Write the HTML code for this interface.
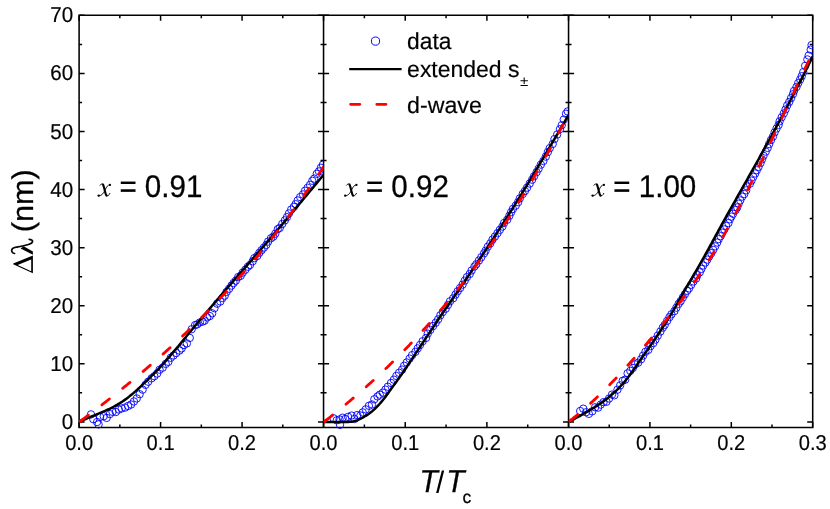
<!DOCTYPE html>
<html lang="en">
<head>
<meta charset="utf-8">
<title>Penetration depth vs T/Tc</title>
<style>html,body{margin:0;padding:0;background:#fff;}body{width:830px;height:509px;overflow:hidden;font-family:"Liberation Sans",sans-serif;}svg{display:block;}</style>
</head>
<body>
<svg width="830" height="509" viewBox="0 0 830 509">
<rect width="830" height="509" fill="#fff"/>
<g stroke="#000" stroke-width="1.55" fill="none" stroke-linecap="butt">
<path d="M79.1 15.3 H812.7 V427.4 H79.1 Z"/>
<path d="M323.55 15.3 V427.4"/>
<path d="M568.55 15.3 V427.4"/>
</g>
<path d="M79.1 427.4 v-5.5 M79.1 15.3 v5.5 M119.84 427.4 v-3 M119.84 15.3 v3 M160.58 427.4 v-5.5 M160.58 15.3 v5.5 M201.32 427.4 v-3 M201.32 15.3 v3 M242.06 427.4 v-5.5 M242.06 15.3 v5.5 M282.8 427.4 v-3 M282.8 15.3 v3 M323.55 427.4 v-5.5 M323.55 15.3 v5.5 M364.38 427.4 v-3 M364.38 15.3 v3 M405.22 427.4 v-5.5 M405.22 15.3 v5.5 M446.06 427.4 v-3 M446.06 15.3 v3 M486.89 427.4 v-5.5 M486.89 15.3 v5.5 M527.73 427.4 v-3 M527.73 15.3 v3 M568.55 427.4 v-5.5 M568.55 15.3 v5.5 M609.24 427.4 v-3 M609.24 15.3 v3 M649.93 427.4 v-5.5 M649.93 15.3 v5.5 M690.62 427.4 v-3 M690.62 15.3 v3 M731.31 427.4 v-5.5 M731.31 15.3 v5.5 M772 427.4 v-3 M772 15.3 v3 M812.69 427.4 v-5.5 M812.69 15.3 v5.5 M79.1 421.9 h5.5 M812.7 421.9 h-5.5 M318.05 421.9 h11 M563.05 421.9 h11 M79.1 392.86 h3 M812.7 392.86 h-3 M320.55 392.86 h6 M565.55 392.86 h6 M79.1 363.82 h5.5 M812.7 363.82 h-5.5 M318.05 363.82 h11 M563.05 363.82 h11 M79.1 334.78 h3 M812.7 334.78 h-3 M320.55 334.78 h6 M565.55 334.78 h6 M79.1 305.74 h5.5 M812.7 305.74 h-5.5 M318.05 305.74 h11 M563.05 305.74 h11 M79.1 276.7 h3 M812.7 276.7 h-3 M320.55 276.7 h6 M565.55 276.7 h6 M79.1 247.66 h5.5 M812.7 247.66 h-5.5 M318.05 247.66 h11 M563.05 247.66 h11 M79.1 218.62 h3 M812.7 218.62 h-3 M320.55 218.62 h6 M565.55 218.62 h6 M79.1 189.58 h5.5 M812.7 189.58 h-5.5 M318.05 189.58 h11 M563.05 189.58 h11 M79.1 160.54 h3 M812.7 160.54 h-3 M320.55 160.54 h6 M565.55 160.54 h6 M79.1 131.5 h5.5 M812.7 131.5 h-5.5 M318.05 131.5 h11 M563.05 131.5 h11 M79.1 102.46 h3 M812.7 102.46 h-3 M320.55 102.46 h6 M565.55 102.46 h6 M79.1 73.42 h5.5 M812.7 73.42 h-5.5 M318.05 73.42 h11 M563.05 73.42 h11 M79.1 44.38 h3 M812.7 44.38 h-3 M320.55 44.38 h6 M565.55 44.38 h6 M79.1 15.34 h5.5 M812.7 15.34 h-5.5 M318.05 15.34 h11 M563.05 15.34 h11" stroke="#000" stroke-width="1.5" fill="none"/>
<defs>
<clipPath id="cp0"><rect x="79.1" y="15.3" width="244.45" height="413.7"/></clipPath>
<clipPath id="cp1"><rect x="323.55" y="15.3" width="245" height="413.7"/></clipPath>
<clipPath id="cp2"><rect x="568.55" y="15.3" width="244.15" height="413.7"/></clipPath>
</defs>
<g clip-path="url(#cp0)">
<g fill="none" stroke="#0000ff" stroke-width="0.9">
<circle cx="91" cy="414.4" r="3.7"/><circle cx="98.6" cy="424.4" r="3.7"/><circle cx="93.3" cy="419.19" r="3.7"/><circle cx="97.12" cy="421.98" r="3.7"/><circle cx="100.11" cy="417" r="3.7"/><circle cx="103.73" cy="416.22" r="3.7"/><circle cx="106.67" cy="417.9" r="3.7"/><circle cx="109.87" cy="414.09" r="3.7"/><circle cx="112.51" cy="411.81" r="3.7"/><circle cx="115.79" cy="412" r="3.7"/><circle cx="118.83" cy="409.55" r="3.7"/><circle cx="121.68" cy="408.44" r="3.7"/><circle cx="125.08" cy="407.55" r="3.7"/><circle cx="128.13" cy="405.97" r="3.7"/><circle cx="131.09" cy="404.52" r="3.7"/><circle cx="133.97" cy="401.47" r="3.7"/><circle cx="136.78" cy="398.43" r="3.7"/><circle cx="139.65" cy="394.21" r="3.7"/><circle cx="142.62" cy="389.64" r="3.7"/><circle cx="145.58" cy="384.83" r="3.7"/><circle cx="148.18" cy="381.74" r="3.7"/><circle cx="151.57" cy="378.31" r="3.7"/><circle cx="154.34" cy="376.22" r="3.7"/><circle cx="157.16" cy="373.57" r="3.7"/><circle cx="159.59" cy="369.73" r="3.7"/><circle cx="162.68" cy="367.66" r="3.7"/><circle cx="165.73" cy="363.92" r="3.7"/><circle cx="168.36" cy="361.88" r="3.7"/><circle cx="170.72" cy="357.78" r="3.7"/><circle cx="173.45" cy="355.52" r="3.7"/><circle cx="176.24" cy="353.05" r="3.7"/><circle cx="179.45" cy="350.6" r="3.7"/><circle cx="181.7" cy="348.4" r="3.7"/><circle cx="184.02" cy="344.97" r="3.7"/><circle cx="186.86" cy="343.43" r="3.7"/><circle cx="189.76" cy="337.93" r="3.7"/><circle cx="191.7" cy="329.23" r="3.7"/><circle cx="195.09" cy="325.12" r="3.7"/><circle cx="197.22" cy="324.36" r="3.7"/><circle cx="199.9" cy="322.4" r="3.7"/><circle cx="202.61" cy="321.59" r="3.7"/><circle cx="204.64" cy="320.63" r="3.7"/><circle cx="207.14" cy="317.43" r="3.7"/><circle cx="209.82" cy="316.06" r="3.7"/><circle cx="212.18" cy="313.3" r="3.7"/><circle cx="214.48" cy="308.19" r="3.7"/><circle cx="217.15" cy="303.72" r="3.7"/><circle cx="220.33" cy="301.49" r="3.7"/><circle cx="222.47" cy="298.03" r="3.7"/><circle cx="224.74" cy="295.66" r="3.7"/><circle cx="226.62" cy="291.84" r="3.7"/><circle cx="229.1" cy="288.78" r="3.7"/><circle cx="231.44" cy="285.61" r="3.7"/><circle cx="233.57" cy="283.01" r="3.7"/><circle cx="235.82" cy="280.68" r="3.7"/><circle cx="238.18" cy="277.04" r="3.7"/><circle cx="240.65" cy="275.82" r="3.7"/><circle cx="242.67" cy="272.62" r="3.7"/><circle cx="245.31" cy="269.74" r="3.7"/><circle cx="247.91" cy="266.71" r="3.7"/><circle cx="250.01" cy="264.93" r="3.7"/><circle cx="252.69" cy="261.25" r="3.7"/><circle cx="254.3" cy="258.13" r="3.7"/><circle cx="257.27" cy="255.97" r="3.7"/><circle cx="259.35" cy="252.78" r="3.7"/><circle cx="261.54" cy="250.17" r="3.7"/><circle cx="263.95" cy="247.54" r="3.7"/><circle cx="266.35" cy="244.85" r="3.7"/><circle cx="268.11" cy="241.58" r="3.7"/><circle cx="270.94" cy="238.27" r="3.7"/><circle cx="273.33" cy="236.64" r="3.7"/><circle cx="275.28" cy="233.69" r="3.7"/><circle cx="277.75" cy="229.19" r="3.7"/><circle cx="279.78" cy="227.91" r="3.7"/><circle cx="282.23" cy="223.99" r="3.7"/><circle cx="284.83" cy="220.39" r="3.7"/><circle cx="286.98" cy="217.13" r="3.7"/><circle cx="288.96" cy="213.4" r="3.7"/><circle cx="291.17" cy="209.6" r="3.7"/><circle cx="293.85" cy="206.86" r="3.7"/><circle cx="295.64" cy="204.16" r="3.7"/><circle cx="297.72" cy="200.43" r="3.7"/><circle cx="300.21" cy="197.06" r="3.7"/><circle cx="302.98" cy="194.42" r="3.7"/><circle cx="305.04" cy="190.72" r="3.7"/><circle cx="307.62" cy="187.75" r="3.7"/><circle cx="310.09" cy="184.84" r="3.7"/><circle cx="312.3" cy="180.81" r="3.7"/><circle cx="314.23" cy="178.62" r="3.7"/><circle cx="316.77" cy="173.82" r="3.7"/><circle cx="318.94" cy="171.4" r="3.7"/><circle cx="320.89" cy="167.75" r="3.7"/><circle cx="322.96" cy="164.62" r="3.7"/>
</g>
<path d="M79.1 422.04 L80.1 421.57 L81.1 421.1 L82.1 420.63 L83.1 420.16 L84.1 419.71 L85.1 419.25 L86.1 418.81 L87.1 418.37 L88.1 417.94 L89.1 417.52 L90.1 417.1 L91.1 416.69 L92.1 416.28 L93.1 415.87 L94.1 415.47 L95.1 415.06 L96.1 414.65 L97.1 414.23 L98.1 413.81 L99.1 413.39 L100.1 412.96 L101.1 412.54 L102.1 412.12 L103.1 411.7 L104.1 411.28 L105.1 410.85 L106.1 410.41 L107.1 409.96 L108.1 409.5 L109.1 409.03 L110.1 408.55 L111.1 408.05 L112.1 407.54 L113.1 407.01 L114.1 406.48 L115.1 405.93 L116.1 405.36 L117.1 404.79 L118.1 404.2 L119.1 403.6 L120.1 402.98 L121.1 402.35 L122.1 401.7 L123.1 401.03 L124.1 400.35 L125.1 399.64 L126.1 398.91 L127.1 398.16 L128.1 397.4 L129.1 396.62 L130.1 395.83 L131.1 395.02 L132.1 394.2 L133.1 393.37 L134.1 392.53 L135.1 391.67 L136.1 390.78 L137.1 389.87 L138.1 388.94 L139.1 388 L140.1 387.04 L141.1 386.08 L142.1 385.11 L143.1 384.15 L144.1 383.18 L145.1 382.23 L146.1 381.27 L147.1 380.31 L148.1 379.36 L149.1 378.4 L150.1 377.43 L151.1 376.46 L152.1 375.48 L153.1 374.5 L154.1 373.5 L155.1 372.49 L156.1 371.47 L157.1 370.43 L158.1 369.38 L159.1 368.31 L160.1 367.23 L161.1 366.14 L162.1 365.05 L163.1 363.94 L164.1 362.82 L165.1 361.69 L166.1 360.56 L167.1 359.42 L168.1 358.27 L169.1 357.11 L170.1 355.94 L171.1 354.77 L172.1 353.59 L173.1 352.41 L174.1 351.22 L175.1 350.03 L176.1 348.83 L177.1 347.63 L178.1 346.43 L179.1 345.22 L180.1 344.01 L181.1 342.8 L182.1 341.58 L183.1 340.37 L184.1 339.15 L185.1 337.93 L186.1 336.71 L187.1 335.5 L188.1 334.28 L189.1 333.06 L190.1 331.85 L191.1 330.64 L192.1 329.43 L193.1 328.22 L194.1 327.02 L195.1 325.82 L196.1 324.62 L197.1 323.43 L198.1 322.24 L199.1 321.06 L200.1 319.88 L201.1 318.71 L202.1 317.53 L203.1 316.36 L204.1 315.19 L205.1 314.01 L206.1 312.84 L207.1 311.66 L208.1 310.49 L209.1 309.31 L210.1 308.14 L211.1 306.96 L212.1 305.79 L213.1 304.62 L214.1 303.44 L215.1 302.27 L216.1 301.1 L217.1 299.93 L218.1 298.75 L219.1 297.58 L220.1 296.41 L221.1 295.24 L222.1 294.08 L223.1 292.91 L224.1 291.74 L225.1 290.58 L226.1 289.41 L227.1 288.25 L228.1 287.09 L229.1 285.92 L230.1 284.76 L231.1 283.61 L232.1 282.45 L233.1 281.3 L234.1 280.14 L235.1 278.99 L236.1 277.85 L237.1 276.7 L238.1 275.55 L239.1 274.41 L240.1 273.27 L241.1 272.13 L242.1 270.98 L243.1 269.84 L244.1 268.7 L245.1 267.56 L246.1 266.42 L247.1 265.28 L248.1 264.14 L249.1 263 L250.1 261.86 L251.1 260.71 L252.1 259.57 L253.1 258.42 L254.1 257.27 L255.1 256.12 L256.1 254.97 L257.1 253.82 L258.1 252.66 L259.1 251.51 L260.1 250.35 L261.1 249.18 L262.1 248.02 L263.1 246.85 L264.1 245.68 L265.1 244.51 L266.1 243.34 L267.1 242.17 L268.1 241 L269.1 239.82 L270.1 238.65 L271.1 237.47 L272.1 236.29 L273.1 235.12 L274.1 233.94 L275.1 232.76 L276.1 231.57 L277.1 230.39 L278.1 229.21 L279.1 228.02 L280.1 226.84 L281.1 225.65 L282.1 224.47 L283.1 223.28 L284.1 222.09 L285.1 220.9 L286.1 219.72 L287.1 218.53 L288.1 217.34 L289.1 216.15 L290.1 214.96 L291.1 213.76 L292.1 212.57 L293.1 211.38 L294.1 210.19 L295.1 209 L296.1 207.8 L297.1 206.61 L298.1 205.42 L299.1 204.23 L300.1 203.03 L301.1 201.84 L302.1 200.64 L303.1 199.45 L304.1 198.25 L305.1 197.05 L306.1 195.85 L307.1 194.66 L308.1 193.46 L309.1 192.26 L310.1 191.05 L311.1 189.85 L312.1 188.65 L313.1 187.45 L314.1 186.25 L315.1 185.04 L316.1 183.84 L317.1 182.63 L318.1 181.43 L319.1 180.22 L320.1 179.01 L321.1 177.8 L322.1 176.6 L323.1 175.39 L323.55 174.84" fill="none" stroke="#000" stroke-width="2.5" stroke-linejoin="round"/>
<path d="M79.1 422.13 L80.1 421.39 L81.1 420.64 L82.1 419.89 L83.1 419.14 L84.1 418.39 L85.1 417.64 L86.1 416.89 L87.1 416.13 L88.1 415.38 L89.1 414.62 L90.1 413.86 L91.1 413.1 L92.1 412.34 L93.1 411.58 L94.1 410.81 L95.1 410.05 L96.1 409.28 L97.1 408.52 L98.1 407.75 L99.1 406.98 L100.1 406.21 L101.1 405.43 L102.1 404.66 L103.1 403.88 L104.1 403.1 L105.1 402.32 L106.1 401.54 L107.1 400.76 L108.1 399.98 L109.1 399.19 L110.1 398.41 L111.1 397.62 L112.1 396.83 L113.1 396.04 L114.1 395.24 L115.1 394.45 L116.1 393.65 L117.1 392.85 L118.1 392.05 L119.1 391.25 L120.1 390.45 L121.1 389.64 L122.1 388.83 L123.1 388.02 L124.1 387.21 L125.1 386.4 L126.1 385.58 L127.1 384.77 L128.1 383.95 L129.1 383.13 L130.1 382.31 L131.1 381.48 L132.1 380.66 L133.1 379.83 L134.1 379 L135.1 378.17 L136.1 377.33 L137.1 376.5 L138.1 375.66 L139.1 374.82 L140.1 373.97 L141.1 373.13 L142.1 372.28 L143.1 371.43 L144.1 370.58 L145.1 369.73 L146.1 368.87 L147.1 368.02 L148.1 367.16 L149.1 366.3 L150.1 365.43 L151.1 364.56 L152.1 363.7 L153.1 362.82 L154.1 361.95 L155.1 361.08 L156.1 360.2 L157.1 359.32 L158.1 358.43 L159.1 357.55 L160.1 356.66 L161.1 355.77 L162.1 354.88 L163.1 353.98 L164.1 353.09 L165.1 352.19 L166.1 351.28 L167.1 350.38 L168.1 349.47 L169.1 348.56 L170.1 347.65 L171.1 346.73 L172.1 345.81 L173.1 344.89 L174.1 343.97 L175.1 343.04 L176.1 342.12 L177.1 341.18 L178.1 340.25 L179.1 339.31 L180.1 338.37 L181.1 337.43 L182.1 336.49 L183.1 335.54 L184.1 334.59 L185.1 333.64 L186.1 332.68 L187.1 331.72 L188.1 330.76 L189.1 329.79 L190.1 328.83 L191.1 327.85 L192.1 326.88 L193.1 325.9 L194.1 324.92 L195.1 323.94 L196.1 322.96 L197.1 321.97 L198.1 320.98 L199.1 319.98 L200.1 318.98 L201.1 317.98 L202.1 316.98 L203.1 315.97 L204.1 314.96 L205.1 313.95 L206.1 312.93 L207.1 311.91 L208.1 310.89 L209.1 309.86 L210.1 308.83 L211.1 307.8 L212.1 306.76 L213.1 305.72 L214.1 304.68 L215.1 303.63 L216.1 302.58 L217.1 301.53 L218.1 300.48 L219.1 299.42 L220.1 298.35 L221.1 297.29 L222.1 296.22 L223.1 295.14 L224.1 294.07 L225.1 292.99 L226.1 291.9 L227.1 290.82 L228.1 289.73 L229.1 288.63 L230.1 287.53 L231.1 286.43 L232.1 285.33 L233.1 284.22 L234.1 283.11 L235.1 281.99 L236.1 280.87 L237.1 279.75 L238.1 278.62 L239.1 277.49 L240.1 276.35 L241.1 275.22 L242.1 274.07 L243.1 272.93 L244.1 271.78 L245.1 270.63 L246.1 269.47 L247.1 268.31 L248.1 267.14 L249.1 265.97 L250.1 264.8 L251.1 263.62 L252.1 262.44 L253.1 261.26 L254.1 260.07 L255.1 258.88 L256.1 257.68 L257.1 256.48 L258.1 255.28 L259.1 254.07 L260.1 252.86 L261.1 251.64 L262.1 250.42 L263.1 249.19 L264.1 247.96 L265.1 246.73 L266.1 245.49 L267.1 244.25 L268.1 243.01 L269.1 241.76 L270.1 240.5 L271.1 239.24 L272.1 237.98 L273.1 236.71 L274.1 235.44 L275.1 234.17 L276.1 232.89 L277.1 231.6 L278.1 230.31 L279.1 229.02 L280.1 227.72 L281.1 226.42 L282.1 225.12 L283.1 223.81 L284.1 222.49 L285.1 221.17 L286.1 219.85 L287.1 218.52 L288.1 217.18 L289.1 215.85 L290.1 214.5 L291.1 213.16 L292.1 211.81 L293.1 210.45 L294.1 209.09 L295.1 207.72 L296.1 206.35 L297.1 204.98 L298.1 203.6 L299.1 202.22 L300.1 200.83 L301.1 199.43 L302.1 198.04 L303.1 196.63 L304.1 195.23 L305.1 193.81 L306.1 192.4 L307.1 190.97 L308.1 189.55 L309.1 188.11 L310.1 186.68 L311.1 185.24 L312.1 183.79 L313.1 182.34 L314.1 180.88 L315.1 179.42 L316.1 177.95 L317.1 176.48 L318.1 175 L319.1 173.52 L320.1 172.04 L321.1 170.54 L322.1 169.05 L323.1 167.55 L323.55 166.87" fill="none" stroke="#ff0000" stroke-width="2.8" stroke-dasharray="9.4 17.1" stroke-dashoffset="-2.2" stroke-linecap="round" stroke-linejoin="round"/>
<path d="M79.1 422.13 L80.1 421.39 L81.1 420.64 L82.1 419.89" fill="none" stroke="#ff0000" stroke-width="2.8"/>
</g>
<g clip-path="url(#cp1)">
<g fill="none" stroke="#0000ff" stroke-width="0.9">
<circle cx="340" cy="424.8" r="3.7"/><circle cx="333.54" cy="418.27" r="3.7"/><circle cx="336.79" cy="420.27" r="3.7"/><circle cx="339.56" cy="419.42" r="3.7"/><circle cx="342.67" cy="417.69" r="3.7"/><circle cx="345.24" cy="418.95" r="3.7"/><circle cx="348.12" cy="416.85" r="3.7"/><circle cx="351.61" cy="415.53" r="3.7"/><circle cx="354.42" cy="418.99" r="3.7"/><circle cx="357.19" cy="415.07" r="3.7"/><circle cx="360.41" cy="415.45" r="3.7"/><circle cx="362.72" cy="412.39" r="3.7"/><circle cx="365.72" cy="409.36" r="3.7"/><circle cx="368.92" cy="405.81" r="3.7"/><circle cx="371.96" cy="404.48" r="3.7"/><circle cx="374.32" cy="399.28" r="3.7"/><circle cx="377.54" cy="396.42" r="3.7"/><circle cx="379.76" cy="394.67" r="3.7"/><circle cx="382.77" cy="392.7" r="3.7"/><circle cx="385.41" cy="389.61" r="3.7"/><circle cx="387.81" cy="386.72" r="3.7"/><circle cx="391.01" cy="382.97" r="3.7"/><circle cx="393.9" cy="379.65" r="3.7"/><circle cx="396.35" cy="375.94" r="3.7"/><circle cx="399.07" cy="372.76" r="3.7"/><circle cx="402.12" cy="369.55" r="3.7"/><circle cx="404.13" cy="365.76" r="3.7"/><circle cx="406.73" cy="362.44" r="3.7"/><circle cx="409.59" cy="358.62" r="3.7"/><circle cx="412.09" cy="355.15" r="3.7"/><circle cx="415.35" cy="351.9" r="3.7"/><circle cx="417.7" cy="348.36" r="3.7"/><circle cx="420" cy="345.03" r="3.7"/><circle cx="422.65" cy="341.21" r="3.7"/><circle cx="426.09" cy="337.92" r="3.7"/><circle cx="427.78" cy="333.58" r="3.7"/><circle cx="430.29" cy="329.89" r="3.7"/><circle cx="433.09" cy="326.02" r="3.7"/><circle cx="435.7" cy="322.75" r="3.7"/><circle cx="438.11" cy="319.38" r="3.7"/><circle cx="440.33" cy="315.39" r="3.7"/><circle cx="442.75" cy="312.03" r="3.7"/><circle cx="445.67" cy="308.71" r="3.7"/><circle cx="447.97" cy="304.93" r="3.7"/><circle cx="450.02" cy="301.31" r="3.7"/><circle cx="453.17" cy="298.3" r="3.7"/><circle cx="455.5" cy="294.61" r="3.7"/><circle cx="457.66" cy="291.28" r="3.7"/><circle cx="460.06" cy="288.07" r="3.7"/><circle cx="462.58" cy="284.61" r="3.7"/><circle cx="464.73" cy="280.68" r="3.7"/><circle cx="466.93" cy="277.16" r="3.7"/><circle cx="469.71" cy="273.98" r="3.7"/><circle cx="471.62" cy="270.47" r="3.7"/><circle cx="474.41" cy="266.59" r="3.7"/><circle cx="476.28" cy="264.22" r="3.7"/><circle cx="478.93" cy="260.5" r="3.7"/><circle cx="481.23" cy="257.34" r="3.7"/><circle cx="484.01" cy="253.36" r="3.7"/><circle cx="485.6" cy="250.67" r="3.7"/><circle cx="487.81" cy="246.67" r="3.7"/><circle cx="490.3" cy="243.4" r="3.7"/><circle cx="492.48" cy="239.62" r="3.7"/><circle cx="494.91" cy="236.61" r="3.7"/><circle cx="497.47" cy="233.21" r="3.7"/><circle cx="499.85" cy="229.8" r="3.7"/><circle cx="502.38" cy="226.54" r="3.7"/><circle cx="504.08" cy="222.94" r="3.7"/><circle cx="507.22" cy="219.72" r="3.7"/><circle cx="509.36" cy="215.79" r="3.7"/><circle cx="511.11" cy="212.15" r="3.7"/><circle cx="512.89" cy="208.96" r="3.7"/><circle cx="515.74" cy="205.63" r="3.7"/><circle cx="518.08" cy="202.24" r="3.7"/><circle cx="519.79" cy="198.48" r="3.7"/><circle cx="522.68" cy="194.04" r="3.7"/><circle cx="524.91" cy="191.01" r="3.7"/><circle cx="527.06" cy="187.65" r="3.7"/><circle cx="529.72" cy="183.56" r="3.7"/><circle cx="532.11" cy="179.71" r="3.7"/><circle cx="534.04" cy="176.26" r="3.7"/><circle cx="536.52" cy="172.25" r="3.7"/><circle cx="538.6" cy="168.75" r="3.7"/><circle cx="540.86" cy="164.62" r="3.7"/><circle cx="543.38" cy="161.01" r="3.7"/><circle cx="545.79" cy="156.63" r="3.7"/><circle cx="547.82" cy="152.07" r="3.7"/><circle cx="549.71" cy="148.21" r="3.7"/><circle cx="552.71" cy="143.96" r="3.7"/><circle cx="554.46" cy="139.05" r="3.7"/><circle cx="557.19" cy="134.49" r="3.7"/><circle cx="559.91" cy="129.17" r="3.7"/><circle cx="561.76" cy="125.19" r="3.7"/><circle cx="563.76" cy="119.56" r="3.7"/><circle cx="566" cy="113.76" r="3.7"/><circle cx="567.69" cy="111.42" r="3.7"/>
</g>
<path d="M323.55 422 L324.55 422.02 L325.55 422.03 L326.55 422.05 L327.55 422.06 L328.55 422.07 L329.55 422.07 L330.55 422.08 L331.55 422.09 L332.55 422.09 L333.55 422.09 L334.55 422.1 L335.55 422.1 L336.55 422.1 L337.55 422.1 L338.55 422.1 L339.55 422.1 L340.55 422.1 L341.55 422.09 L342.55 422.08 L343.55 422.06 L344.55 422.04 L345.55 422.01 L346.55 421.97 L347.55 421.93 L348.55 421.89 L349.55 421.84 L350.55 421.78 L351.55 421.68 L352.55 421.53 L353.55 421.33 L354.55 421.09 L355.55 420.83 L356.55 420.56 L357.55 420.2 L358.55 419.76 L359.55 419.25 L360.55 418.71 L361.55 418.15 L362.55 417.61 L363.55 417.07 L364.55 416.51 L365.55 415.92 L366.55 415.31 L367.55 414.67 L368.55 413.99 L369.55 413.27 L370.55 412.5 L371.55 411.7 L372.55 410.87 L373.55 410 L374.55 409.1 L375.55 408.15 L376.55 407.16 L377.55 406.13 L378.55 405.07 L379.55 403.98 L380.55 402.85 L381.55 401.68 L382.55 400.47 L383.55 399.23 L384.55 397.96 L385.55 396.67 L386.55 395.33 L387.55 393.94 L388.55 392.53 L389.55 391.11 L390.55 389.71 L391.55 388.33 L392.55 386.98 L393.55 385.62 L394.55 384.27 L395.55 382.91 L396.55 381.53 L397.55 380.13 L398.55 378.71 L399.55 377.29 L400.55 375.85 L401.55 374.41 L402.55 372.96 L403.55 371.5 L404.55 370.04 L405.55 368.57 L406.55 367.1 L407.55 365.63 L408.55 364.15 L409.55 362.66 L410.55 361.17 L411.55 359.67 L412.55 358.16 L413.55 356.66 L414.55 355.15 L415.55 353.64 L416.55 352.13 L417.55 350.63 L418.55 349.13 L419.55 347.63 L420.55 346.13 L421.55 344.63 L422.55 343.13 L423.55 341.63 L424.55 340.13 L425.55 338.63 L426.55 337.13 L427.55 335.63 L428.55 334.13 L429.55 332.62 L430.55 331.11 L431.55 329.59 L432.55 328.07 L433.55 326.55 L434.55 325.03 L435.55 323.51 L436.55 322 L437.55 320.49 L438.55 319 L439.55 317.52 L440.55 316.05 L441.55 314.59 L442.55 313.14 L443.55 311.7 L444.55 310.27 L445.55 308.85 L446.55 307.42 L447.55 306 L448.55 304.57 L449.55 303.15 L450.55 301.72 L451.55 300.28 L452.55 298.85 L453.55 297.42 L454.55 295.99 L455.55 294.56 L456.55 293.12 L457.55 291.68 L458.55 290.24 L459.55 288.78 L460.55 287.32 L461.55 285.86 L462.55 284.4 L463.55 282.94 L464.55 281.48 L465.55 280.01 L466.55 278.54 L467.55 277.07 L468.55 275.6 L469.55 274.13 L470.55 272.65 L471.55 271.17 L472.55 269.7 L473.55 268.21 L474.55 266.73 L475.55 265.24 L476.55 263.76 L477.55 262.26 L478.55 260.77 L479.55 259.28 L480.55 257.78 L481.55 256.28 L482.55 254.78 L483.55 253.27 L484.55 251.76 L485.55 250.25 L486.55 248.74 L487.55 247.23 L488.55 245.71 L489.55 244.19 L490.55 242.66 L491.55 241.14 L492.55 239.61 L493.55 238.08 L494.55 236.54 L495.55 235.01 L496.55 233.47 L497.55 231.93 L498.55 230.39 L499.55 228.85 L500.55 227.3 L501.55 225.75 L502.55 224.19 L503.55 222.64 L504.55 221.08 L505.55 219.52 L506.55 217.95 L507.55 216.38 L508.55 214.81 L509.55 213.24 L510.55 211.66 L511.55 210.08 L512.55 208.49 L513.55 206.9 L514.55 205.31 L515.55 203.71 L516.55 202.11 L517.55 200.51 L518.55 198.9 L519.55 197.28 L520.55 195.66 L521.55 194.04 L522.55 192.41 L523.55 190.78 L524.55 189.14 L525.55 187.49 L526.55 185.85 L527.55 184.19 L528.55 182.54 L529.55 180.88 L530.55 179.22 L531.55 177.55 L532.55 175.89 L533.55 174.22 L534.55 172.55 L535.55 170.87 L536.55 169.2 L537.55 167.52 L538.55 165.84 L539.55 164.16 L540.55 162.48 L541.55 160.8 L542.55 159.12 L543.55 157.44 L544.55 155.76 L545.55 154.08 L546.55 152.39 L547.55 150.71 L548.55 149.02 L549.55 147.33 L550.55 145.64 L551.55 143.95 L552.55 142.26 L553.55 140.56 L554.55 138.86 L555.55 137.16 L556.55 135.46 L557.55 133.76 L558.55 132.05 L559.55 130.35 L560.55 128.64 L561.55 126.93 L562.55 125.22 L563.55 123.51 L564.55 121.79 L565.55 120.07 L566.55 118.36 L567.55 116.64 L568.55 114.91" fill="none" stroke="#000" stroke-width="2.5" stroke-linejoin="round"/>
<path d="M323.55 422.25 L324.55 421.47 L325.55 420.69 L326.55 419.9 L327.55 419.12 L328.55 418.33 L329.55 417.54 L330.55 416.75 L331.55 415.95 L332.55 415.16 L333.55 414.36 L334.55 413.55 L335.55 412.75 L336.55 411.94 L337.55 411.13 L338.55 410.32 L339.55 409.51 L340.55 408.69 L341.55 407.87 L342.55 407.04 L343.55 406.22 L344.55 405.39 L345.55 404.56 L346.55 403.73 L347.55 402.89 L348.55 402.05 L349.55 401.21 L350.55 400.37 L351.55 399.52 L352.55 398.67 L353.55 397.82 L354.55 396.96 L355.55 396.1 L356.55 395.24 L357.55 394.37 L358.55 393.51 L359.55 392.64 L360.55 391.76 L361.55 390.89 L362.55 390.01 L363.55 389.12 L364.55 388.24 L365.55 387.35 L366.55 386.46 L367.55 385.56 L368.55 384.66 L369.55 383.76 L370.55 382.86 L371.55 381.95 L372.55 381.04 L373.55 380.13 L374.55 379.21 L375.55 378.29 L376.55 377.36 L377.55 376.44 L378.55 375.5 L379.55 374.57 L380.55 373.63 L381.55 372.69 L382.55 371.75 L383.55 370.8 L384.55 369.85 L385.55 368.89 L386.55 367.93 L387.55 366.97 L388.55 366.01 L389.55 365.04 L390.55 364.06 L391.55 363.09 L392.55 362.11 L393.55 361.12 L394.55 360.14 L395.55 359.14 L396.55 358.15 L397.55 357.15 L398.55 356.15 L399.55 355.14 L400.55 354.13 L401.55 353.12 L402.55 352.1 L403.55 351.08 L404.55 350.05 L405.55 349.03 L406.55 347.99 L407.55 346.95 L408.55 345.91 L409.55 344.87 L410.55 343.82 L411.55 342.77 L412.55 341.71 L413.55 340.65 L414.55 339.58 L415.55 338.51 L416.55 337.44 L417.55 336.36 L418.55 335.28 L419.55 334.19 L420.55 333.1 L421.55 332.01 L422.55 330.91 L423.55 329.81 L424.55 328.7 L425.55 327.59 L426.55 326.47 L427.55 325.35 L428.55 324.23 L429.55 323.1 L430.55 321.96 L431.55 320.83 L432.55 319.68 L433.55 318.54 L434.55 317.38 L435.55 316.23 L436.55 315.07 L437.55 313.9 L438.55 312.73 L439.55 311.56 L440.55 310.38 L441.55 309.2 L442.55 308.01 L443.55 306.82 L444.55 305.62 L445.55 304.42 L446.55 303.21 L447.55 302 L448.55 300.78 L449.55 299.56 L450.55 298.33 L451.55 297.1 L452.55 295.87 L453.55 294.63 L454.55 293.38 L455.55 292.13 L456.55 290.87 L457.55 289.61 L458.55 288.35 L459.55 287.08 L460.55 285.8 L461.55 284.52 L462.55 283.24 L463.55 281.95 L464.55 280.65 L465.55 279.35 L466.55 278.04 L467.55 276.73 L468.55 275.42 L469.55 274.1 L470.55 272.77 L471.55 271.44 L472.55 270.1 L473.55 268.76 L474.55 267.41 L475.55 266.06 L476.55 264.7 L477.55 263.33 L478.55 261.96 L479.55 260.59 L480.55 259.21 L481.55 257.82 L482.55 256.43 L483.55 255.04 L484.55 253.63 L485.55 252.23 L486.55 250.81 L487.55 249.39 L488.55 247.97 L489.55 246.54 L490.55 245.11 L491.55 243.66 L492.55 242.22 L493.55 240.76 L494.55 239.31 L495.55 237.84 L496.55 236.37 L497.55 234.9 L498.55 233.42 L499.55 231.93 L500.55 230.44 L501.55 228.94 L502.55 227.43 L503.55 225.92 L504.55 224.41 L505.55 222.88 L506.55 221.36 L507.55 219.82 L508.55 218.28 L509.55 216.73 L510.55 215.18 L511.55 213.62 L512.55 212.06 L513.55 210.49 L514.55 208.91 L515.55 207.33 L516.55 205.74 L517.55 204.15 L518.55 202.54 L519.55 200.94 L520.55 199.32 L521.55 197.7 L522.55 196.08 L523.55 194.44 L524.55 192.8 L525.55 191.16 L526.55 189.51 L527.55 187.85 L528.55 186.18 L529.55 184.51 L530.55 182.84 L531.55 181.15 L532.55 179.46 L533.55 177.77 L534.55 176.06 L535.55 174.35 L536.55 172.64 L537.55 170.91 L538.55 169.18 L539.55 167.45 L540.55 165.71 L541.55 163.96 L542.55 162.2 L543.55 160.44 L544.55 158.67 L545.55 156.89 L546.55 155.11 L547.55 153.32 L548.55 151.52 L549.55 149.72 L550.55 147.91 L551.55 146.09 L552.55 144.27 L553.55 142.43 L554.55 140.6 L555.55 138.75 L556.55 136.9 L557.55 135.04 L558.55 133.18 L559.55 131.3 L560.55 129.42 L561.55 127.54 L562.55 125.64 L563.55 123.74 L564.55 121.83 L565.55 119.92 L566.55 117.99 L567.55 116.06 L568.55 114.13" fill="none" stroke="#ff0000" stroke-width="2.8" stroke-dasharray="9.4 17.28" stroke-dashoffset="-2.2" stroke-linecap="round" stroke-linejoin="round"/>
<path d="M323.55 422.25 L324.55 421.47 L325.55 420.69 L326.55 419.9" fill="none" stroke="#ff0000" stroke-width="2.8"/>
</g>
<g clip-path="url(#cp2)">
<g fill="none" stroke="#0000ff" stroke-width="0.9">
<circle cx="580.17" cy="411.01" r="3.7"/><circle cx="583.26" cy="408.66" r="3.7"/><circle cx="586.09" cy="412.25" r="3.7"/><circle cx="588.84" cy="413.85" r="3.7"/><circle cx="592.26" cy="411.3" r="3.7"/><circle cx="595.14" cy="407.29" r="3.7"/><circle cx="598.1" cy="407.65" r="3.7"/><circle cx="600.72" cy="404.59" r="3.7"/><circle cx="603.55" cy="402.09" r="3.7"/><circle cx="606.45" cy="401.79" r="3.7"/><circle cx="609.03" cy="398.55" r="3.7"/><circle cx="612.01" cy="394.59" r="3.7"/><circle cx="614.36" cy="395.31" r="3.7"/><circle cx="617.45" cy="389.69" r="3.7"/><circle cx="620.13" cy="385.43" r="3.7"/><circle cx="622.69" cy="380.8" r="3.7"/><circle cx="625.23" cy="379.67" r="3.7"/><circle cx="627.59" cy="373.35" r="3.7"/><circle cx="630.33" cy="370.84" r="3.7"/><circle cx="632.94" cy="367.95" r="3.7"/><circle cx="635.2" cy="364.31" r="3.7"/><circle cx="638.13" cy="362.72" r="3.7"/><circle cx="641.11" cy="359.23" r="3.7"/><circle cx="643.06" cy="355.64" r="3.7"/><circle cx="645.42" cy="351.8" r="3.7"/><circle cx="648.37" cy="349.85" r="3.7"/><circle cx="650.46" cy="346.15" r="3.7"/><circle cx="653.32" cy="343.07" r="3.7"/><circle cx="655.47" cy="339.59" r="3.7"/><circle cx="657.76" cy="335.62" r="3.7"/><circle cx="660.41" cy="331.49" r="3.7"/><circle cx="662.78" cy="327.63" r="3.7"/><circle cx="664.73" cy="324.87" r="3.7"/><circle cx="667.14" cy="320.87" r="3.7"/><circle cx="669.48" cy="317.14" r="3.7"/><circle cx="671.41" cy="314.32" r="3.7"/><circle cx="674.38" cy="311.12" r="3.7"/><circle cx="676.37" cy="307.69" r="3.7"/><circle cx="678.6" cy="303.88" r="3.7"/><circle cx="680.64" cy="301.19" r="3.7"/><circle cx="682.87" cy="297.48" r="3.7"/><circle cx="684.84" cy="294.33" r="3.7"/><circle cx="687.15" cy="290.81" r="3.7"/><circle cx="689.02" cy="288.38" r="3.7"/><circle cx="691.19" cy="284.84" r="3.7"/><circle cx="693.45" cy="281.43" r="3.7"/><circle cx="696.12" cy="278.46" r="3.7"/><circle cx="697.31" cy="275.22" r="3.7"/><circle cx="699.75" cy="272.32" r="3.7"/><circle cx="701.37" cy="268.91" r="3.7"/><circle cx="703.19" cy="265.5" r="3.7"/><circle cx="705.4" cy="262.49" r="3.7"/><circle cx="707.33" cy="259.64" r="3.7"/><circle cx="709.19" cy="256.44" r="3.7"/><circle cx="711.3" cy="253.15" r="3.7"/><circle cx="713.17" cy="249.88" r="3.7"/><circle cx="715.13" cy="246.34" r="3.7"/><circle cx="717.16" cy="242.56" r="3.7"/><circle cx="718.68" cy="239.19" r="3.7"/><circle cx="720.55" cy="236.2" r="3.7"/><circle cx="722.28" cy="232.68" r="3.7"/><circle cx="724.22" cy="229.4" r="3.7"/><circle cx="726.16" cy="225.92" r="3.7"/><circle cx="728.43" cy="223.08" r="3.7"/><circle cx="729.82" cy="219.34" r="3.7"/><circle cx="731.35" cy="216.61" r="3.7"/><circle cx="733.04" cy="213.76" r="3.7"/><circle cx="735.66" cy="210.09" r="3.7"/><circle cx="737.22" cy="207.43" r="3.7"/><circle cx="738.64" cy="203.69" r="3.7"/><circle cx="740.23" cy="200.37" r="3.7"/><circle cx="742.15" cy="196.65" r="3.7"/><circle cx="744.26" cy="193.98" r="3.7"/><circle cx="746.24" cy="190.33" r="3.7"/><circle cx="747" cy="186.44" r="3.7"/><circle cx="749.91" cy="183.71" r="3.7"/><circle cx="751.48" cy="180.62" r="3.7"/><circle cx="753.27" cy="176.84" r="3.7"/><circle cx="755.15" cy="173.48" r="3.7"/><circle cx="756.76" cy="170.19" r="3.7"/><circle cx="758.55" cy="166.91" r="3.7"/><circle cx="760.55" cy="162.96" r="3.7"/><circle cx="761.98" cy="159.41" r="3.7"/><circle cx="763.49" cy="155.82" r="3.7"/><circle cx="765.75" cy="151.65" r="3.7"/><circle cx="767.64" cy="147.93" r="3.7"/><circle cx="769.15" cy="144.06" r="3.7"/><circle cx="770.96" cy="140.08" r="3.7"/><circle cx="772.96" cy="136.58" r="3.7"/><circle cx="774.58" cy="132.45" r="3.7"/><circle cx="776.54" cy="128.5" r="3.7"/><circle cx="778.63" cy="124.94" r="3.7"/><circle cx="779.63" cy="121.27" r="3.7"/><circle cx="781.66" cy="117.3" r="3.7"/><circle cx="783.82" cy="113.36" r="3.7"/><circle cx="785.53" cy="109.52" r="3.7"/><circle cx="787.17" cy="105.43" r="3.7"/><circle cx="789.24" cy="101.93" r="3.7"/><circle cx="791.05" cy="98.13" r="3.7"/><circle cx="792.97" cy="94.22" r="3.7"/><circle cx="794.04" cy="90.87" r="3.7"/><circle cx="796.48" cy="87" r="3.7"/><circle cx="798.21" cy="83.13" r="3.7"/><circle cx="800.18" cy="79.48" r="3.7"/><circle cx="801.7" cy="76.19" r="3.7"/><circle cx="803.25" cy="72.09" r="3.7"/><circle cx="805.14" cy="65.85" r="3.7"/><circle cx="807.37" cy="59.42" r="3.7"/><circle cx="808.68" cy="55.57" r="3.7"/><circle cx="810.69" cy="49.68" r="3.7"/><circle cx="811.55" cy="45.07" r="3.7"/>
</g>
<path d="M568.55 421.88 L569.55 421.38 L570.55 420.87 L571.55 420.36 L572.55 419.85 L573.55 419.33 L574.55 418.8 L575.55 418.27 L576.55 417.73 L577.55 417.19 L578.55 416.65 L579.55 416.1 L580.55 415.54 L581.55 414.98 L582.55 414.42 L583.55 413.85 L584.55 413.27 L585.55 412.7 L586.55 412.11 L587.55 411.52 L588.55 410.93 L589.55 410.33 L590.55 409.74 L591.55 409.14 L592.55 408.54 L593.55 407.93 L594.55 407.31 L595.55 406.69 L596.55 406.06 L597.55 405.41 L598.55 404.76 L599.55 404.08 L600.55 403.4 L601.55 402.69 L602.55 401.98 L603.55 401.25 L604.55 400.51 L605.55 399.76 L606.55 398.99 L607.55 398.2 L608.55 397.4 L609.55 396.58 L610.55 395.74 L611.55 394.88 L612.55 394 L613.55 393.1 L614.55 392.18 L615.55 391.24 L616.55 390.28 L617.55 389.29 L618.55 388.28 L619.55 387.25 L620.55 386.2 L621.55 385.12 L622.55 384.02 L623.55 382.9 L624.55 381.74 L625.55 380.54 L626.55 379.29 L627.55 378 L628.55 376.68 L629.55 375.34 L630.55 373.98 L631.55 372.61 L632.55 371.24 L633.55 369.84 L634.55 368.41 L635.55 366.96 L636.55 365.5 L637.55 364.02 L638.55 362.55 L639.55 361.07 L640.55 359.61 L641.55 358.17 L642.55 356.75 L643.55 355.33 L644.55 353.93 L645.55 352.53 L646.55 351.13 L647.55 349.73 L648.55 348.33 L649.55 346.92 L650.55 345.51 L651.55 344.07 L652.55 342.63 L653.55 341.17 L654.55 339.7 L655.55 338.23 L656.55 336.74 L657.55 335.25 L658.55 333.75 L659.55 332.24 L660.55 330.72 L661.55 329.2 L662.55 327.66 L663.55 326.11 L664.55 324.56 L665.55 323 L666.55 321.43 L667.55 319.86 L668.55 318.27 L669.55 316.67 L670.55 315.06 L671.55 313.43 L672.55 311.78 L673.55 310.12 L674.55 308.44 L675.55 306.72 L676.55 304.98 L677.55 303.21 L678.55 301.43 L679.55 299.63 L680.55 297.83 L681.55 296.03 L682.55 294.23 L683.55 292.45 L684.55 290.69 L685.55 288.94 L686.55 287.2 L687.55 285.47 L688.55 283.75 L689.55 282.03 L690.55 280.31 L691.55 278.6 L692.55 276.89 L693.55 275.18 L694.55 273.47 L695.55 271.76 L696.55 270.04 L697.55 268.32 L698.55 266.59 L699.55 264.85 L700.55 263.11 L701.55 261.35 L702.55 259.59 L703.55 257.81 L704.55 256.03 L705.55 254.23 L706.55 252.43 L707.55 250.61 L708.55 248.79 L709.55 246.97 L710.55 245.14 L711.55 243.31 L712.55 241.47 L713.55 239.64 L714.55 237.8 L715.55 235.96 L716.55 234.12 L717.55 232.28 L718.55 230.45 L719.55 228.62 L720.55 226.79 L721.55 224.97 L722.55 223.16 L723.55 221.35 L724.55 219.55 L725.55 217.76 L726.55 215.97 L727.55 214.18 L728.55 212.4 L729.55 210.62 L730.55 208.85 L731.55 207.08 L732.55 205.31 L733.55 203.54 L734.55 201.77 L735.55 200 L736.55 198.24 L737.55 196.47 L738.55 194.71 L739.55 192.94 L740.55 191.17 L741.55 189.4 L742.55 187.63 L743.55 185.86 L744.55 184.08 L745.55 182.3 L746.55 180.52 L747.55 178.74 L748.55 176.96 L749.55 175.19 L750.55 173.42 L751.55 171.65 L752.55 169.87 L753.55 168.1 L754.55 166.33 L755.55 164.56 L756.55 162.79 L757.55 161.02 L758.55 159.24 L759.55 157.46 L760.55 155.68 L761.55 153.9 L762.55 152.11 L763.55 150.32 L764.55 148.53 L765.55 146.73 L766.55 144.92 L767.55 143.11 L768.55 141.29 L769.55 139.47 L770.55 137.63 L771.55 135.8 L772.55 133.95 L773.55 132.1 L774.55 130.24 L775.55 128.38 L776.55 126.51 L777.55 124.65 L778.55 122.78 L779.55 120.9 L780.55 119.02 L781.55 117.14 L782.55 115.26 L783.55 113.37 L784.55 111.48 L785.55 109.58 L786.55 107.68 L787.55 105.78 L788.55 103.87 L789.55 101.96 L790.55 100.04 L791.55 98.13 L792.55 96.2 L793.55 94.28 L794.55 92.35 L795.55 90.41 L796.55 88.47 L797.55 86.53 L798.55 84.59 L799.55 82.63 L800.55 80.68 L801.55 78.72 L802.55 76.76 L803.55 74.79 L804.55 72.82 L805.55 70.85 L806.55 68.87 L807.55 66.88 L808.55 64.9 L809.55 62.9 L810.55 60.91 L811.55 58.91 L812.55 56.9 L812.7 56.6" fill="none" stroke="#000" stroke-width="2.5" stroke-linejoin="round"/>
<path d="M568.55 421.87 L569.55 421.1 L570.55 420.32 L571.55 419.54 L572.55 418.74 L573.55 417.95 L574.55 417.14 L575.55 416.33 L576.55 415.51 L577.55 414.68 L578.55 413.84 L579.55 413 L580.55 412.16 L581.55 411.3 L582.55 410.44 L583.55 409.57 L584.55 408.7 L585.55 407.82 L586.55 406.93 L587.55 406.04 L588.55 405.14 L589.55 404.23 L590.55 403.32 L591.55 402.4 L592.55 401.47 L593.55 400.54 L594.55 399.61 L595.55 398.66 L596.55 397.71 L597.55 396.76 L598.55 395.8 L599.55 394.83 L600.55 393.86 L601.55 392.88 L602.55 391.9 L603.55 390.91 L604.55 389.91 L605.55 388.91 L606.55 387.91 L607.55 386.9 L608.55 385.88 L609.55 384.86 L610.55 383.83 L611.55 382.8 L612.55 381.76 L613.55 380.72 L614.55 379.67 L615.55 378.62 L616.55 377.56 L617.55 376.5 L618.55 375.43 L619.55 374.36 L620.55 373.29 L621.55 372.21 L622.55 371.12 L623.55 370.03 L624.55 368.94 L625.55 367.84 L626.55 366.73 L627.55 365.63 L628.55 364.51 L629.55 363.4 L630.55 362.28 L631.55 361.15 L632.55 360.02 L633.55 358.89 L634.55 357.75 L635.55 356.61 L636.55 355.47 L637.55 354.32 L638.55 353.17 L639.55 352.01 L640.55 350.86 L641.55 349.69 L642.55 348.53 L643.55 347.36 L644.55 346.18 L645.55 345.01 L646.55 343.83 L647.55 342.64 L648.55 341.46 L649.55 340.27 L650.55 339.07 L651.55 337.88 L652.55 336.68 L653.55 335.48 L654.55 334.27 L655.55 333.06 L656.55 331.85 L657.55 330.64 L658.55 329.42 L659.55 328.19 L660.55 326.97 L661.55 325.74 L662.55 324.5 L663.55 323.26 L664.55 322.02 L665.55 320.77 L666.55 319.52 L667.55 318.26 L668.55 317 L669.55 315.73 L670.55 314.46 L671.55 313.18 L672.55 311.89 L673.55 310.6 L674.55 309.31 L675.55 308.01 L676.55 306.7 L677.55 305.39 L678.55 304.07 L679.55 302.74 L680.55 301.41 L681.55 300.07 L682.55 298.72 L683.55 297.37 L684.55 296.01 L685.55 294.64 L686.55 293.27 L687.55 291.88 L688.55 290.49 L689.55 289.09 L690.55 287.69 L691.55 286.27 L692.55 284.85 L693.55 283.42 L694.55 281.98 L695.55 280.53 L696.55 279.07 L697.55 277.6 L698.55 276.13 L699.55 274.64 L700.55 273.14 L701.55 271.64 L702.55 270.12 L703.55 268.59 L704.55 267.05 L705.55 265.5 L706.55 263.94 L707.55 262.37 L708.55 260.79 L709.55 259.2 L710.55 257.59 L711.55 255.98 L712.55 254.35 L713.55 252.71 L714.55 251.06 L715.55 249.39 L716.55 247.71 L717.55 246.02 L718.55 244.32 L719.55 242.61 L720.55 240.88 L721.55 239.14 L722.55 237.39 L723.55 235.63 L724.55 233.85 L725.55 232.07 L726.55 230.27 L727.55 228.46 L728.55 226.64 L729.55 224.81 L730.55 222.96 L731.55 221.11 L732.55 219.24 L733.55 217.37 L734.55 215.48 L735.55 213.58 L736.55 211.67 L737.55 209.76 L738.55 207.83 L739.55 205.89 L740.55 203.94 L741.55 201.98 L742.55 200.01 L743.55 198.03 L744.55 196.04 L745.55 194.04 L746.55 192.04 L747.55 190.02 L748.55 188 L749.55 185.97 L750.55 183.93 L751.55 181.89 L752.55 179.83 L753.55 177.78 L754.55 175.71 L755.55 173.64 L756.55 171.56 L757.55 169.48 L758.55 167.4 L759.55 165.31 L760.55 163.21 L761.55 161.11 L762.55 159.01 L763.55 156.9 L764.55 154.79 L765.55 152.68 L766.55 150.57 L767.55 148.45 L768.55 146.33 L769.55 144.21 L770.55 142.09 L771.55 139.96 L772.55 137.84 L773.55 135.71 L774.55 133.58 L775.55 131.45 L776.55 129.31 L777.55 127.18 L778.55 125.04 L779.55 122.91 L780.55 120.77 L781.55 118.63 L782.55 116.5 L783.55 114.36 L784.55 112.22 L785.55 110.08 L786.55 107.94 L787.55 105.8 L788.55 103.66 L789.55 101.53 L790.55 99.39 L791.55 97.25 L792.55 95.11 L793.55 92.98 L794.55 90.84 L795.55 88.71 L796.55 86.57 L797.55 84.44 L798.55 82.31 L799.55 80.18 L800.55 78.06 L801.55 75.93 L802.55 73.81 L803.55 71.68 L804.55 69.56 L805.55 67.45 L806.55 65.33 L807.55 63.22 L808.55 61.11 L809.55 59" fill="none" stroke="#ff0000" stroke-width="2.8" stroke-dasharray="9.4 17.25" stroke-dashoffset="-2.2" stroke-linecap="round" stroke-linejoin="round"/>
<path d="M568.55 421.87 L569.55 421.1 L570.55 420.32 L571.55 419.54" fill="none" stroke="#ff0000" stroke-width="2.8"/>
</g>
<g opacity="0.999" text-rendering="geometricPrecision">
<rect x="0" y="0" width="1" height="1" fill="#fff"/>
<g font-family="'Liberation Sans', sans-serif" font-size="21.5" fill="#000" stroke="#000" stroke-width="0.2">
<text transform="translate(73.1 428.9) scale(.957 1)" text-anchor="end">0</text>
<text transform="translate(73.1 370.82) scale(.957 1)" text-anchor="end">10</text>
<text transform="translate(73.1 312.74) scale(.957 1)" text-anchor="end">20</text>
<text transform="translate(73.1 254.66) scale(.957 1)" text-anchor="end">30</text>
<text transform="translate(73.1 196.58) scale(.957 1)" text-anchor="end">40</text>
<text transform="translate(73.1 138.5) scale(.957 1)" text-anchor="end">50</text>
<text transform="translate(73.1 80.42) scale(.957 1)" text-anchor="end">60</text>
<text transform="translate(73.1 22.34) scale(.957 1)" text-anchor="end">70</text>
<text transform="translate(79.1 449.6) scale(.935 1)" text-anchor="middle">0.0</text>
<text transform="translate(160.58 449.6) scale(.935 1)" text-anchor="middle">0.1</text>
<text transform="translate(242.06 449.6) scale(.935 1)" text-anchor="middle">0.2</text>
<text transform="translate(323.55 449.6) scale(.935 1)" text-anchor="middle">0.0</text>
<text transform="translate(405.22 449.6) scale(.935 1)" text-anchor="middle">0.1</text>
<text transform="translate(486.89 449.6) scale(.935 1)" text-anchor="middle">0.2</text>
<text transform="translate(568.55 449.6) scale(.935 1)" text-anchor="middle">0.0</text>
<text transform="translate(649.93 449.6) scale(.935 1)" text-anchor="middle">0.1</text>
<text transform="translate(731.31 449.6) scale(.935 1)" text-anchor="middle">0.2</text>
<text transform="translate(812.69 449.6) scale(.935 1)" text-anchor="middle">0.3</text>
</g>
<g fill="#000">
<path fill-rule="evenodd" d="M32.9 255.6 L13.2 263.6 L13.2 264.3 L32.9 273.2 Z M31.2 259.6 L17.63 265.1 L31.2 271.2 Z"/>
<path fill="none" stroke="#000" stroke-width="1.7" stroke-linecap="round" stroke-linejoin="round" d="M14.6 253.5 C12.6 253.3 11.4 251.6 11.7 250 C12.1 248.2 14 247.6 16.75 247.2 C19.5 246.8 25 245.6 28.5 244.5 C30.6 243.8 32.5 242.8 32.6 241.4 C32.7 240.2 31 239.3 29.2 239.3"/>
<path d="M20.6 248.4 L32.9 254.7 L32.9 251.6 L23.6 246.2 Z"/>
<text transform="translate(33.2 232.3) rotate(-90) scale(1.023 1)" font-family="'Liberation Sans', sans-serif" font-size="30" stroke="#000" stroke-width="0.3">(nm)</text>
<g font-family="'Liberation Sans', sans-serif" font-size="31.7" stroke="#000" stroke-width="0.3">
<text transform="translate(419.6 492.2) scale(.945 1)" font-style="italic">T</text>
<path d="M436.1 492.9 L438.5 492.9 L444.2 470.6 L441.8 470.6 Z" stroke="none"/>
<text transform="translate(446.3 492.2) scale(.945 1)" font-style="italic">T</text>
<text transform="translate(462.5 503.2) scale(.99 1)" font-size="17.6">c</text>
</g>
<g transform="translate(0 0)" fill="none" stroke="#000" stroke-linecap="round" stroke-linejoin="round"><path stroke-width="2.15" d="M103.1 184.6 C103.9 186.6 104.4 188.8 104.9 191 C105.4 193.1 105.7 194.8 106.6 195.6"/><path stroke-width="1.0" d="M100.0 185.2 C100.7 184.2 101.8 183.5 103.0 184.2 M106.4 195.6 C107.6 196.5 109.0 195.4 109.9 193.4"/><path stroke-width="0.95" d="M110.0 184.9 C107.6 184.6 106.3 187.4 105.2 189.8 C104.0 192.3 102.2 195.9 98.7 195.8"/><circle cx="110.0" cy="184.95" r="1.1" fill="#000" stroke="none"/><circle cx="98.7" cy="195.6" r="1.2" fill="#000" stroke="none"/></g>
<text transform="translate(119.4 197.4) scale(.944 1)" font-size="31.3" stroke="#000" stroke-width="0.3" font-family="'Liberation Sans', sans-serif">= 0.91</text>
<g transform="translate(246.5 0)" fill="none" stroke="#000" stroke-linecap="round" stroke-linejoin="round"><path stroke-width="2.15" d="M103.1 184.6 C103.9 186.6 104.4 188.8 104.9 191 C105.4 193.1 105.7 194.8 106.6 195.6"/><path stroke-width="1.0" d="M100.0 185.2 C100.7 184.2 101.8 183.5 103.0 184.2 M106.4 195.6 C107.6 196.5 109.0 195.4 109.9 193.4"/><path stroke-width="0.95" d="M110.0 184.9 C107.6 184.6 106.3 187.4 105.2 189.8 C104.0 192.3 102.2 195.9 98.7 195.8"/><circle cx="110.0" cy="184.95" r="1.1" fill="#000" stroke="none"/><circle cx="98.7" cy="195.6" r="1.2" fill="#000" stroke="none"/></g>
<text transform="translate(365.9 197.4) scale(.944 1)" font-size="31.3" stroke="#000" stroke-width="0.3" font-family="'Liberation Sans', sans-serif">= 0.92</text>
<g transform="translate(493.9 0)" fill="none" stroke="#000" stroke-linecap="round" stroke-linejoin="round"><path stroke-width="2.15" d="M103.1 184.6 C103.9 186.6 104.4 188.8 104.9 191 C105.4 193.1 105.7 194.8 106.6 195.6"/><path stroke-width="1.0" d="M100.0 185.2 C100.7 184.2 101.8 183.5 103.0 184.2 M106.4 195.6 C107.6 196.5 109.0 195.4 109.9 193.4"/><path stroke-width="0.95" d="M110.0 184.9 C107.6 184.6 106.3 187.4 105.2 189.8 C104.0 192.3 102.2 195.9 98.7 195.8"/><circle cx="110.0" cy="184.95" r="1.1" fill="#000" stroke="none"/><circle cx="98.7" cy="195.6" r="1.2" fill="#000" stroke="none"/></g>
<text transform="translate(613.3 197.4) scale(.944 1)" font-size="31.3" stroke="#000" stroke-width="0.3" font-family="'Liberation Sans', sans-serif">= 1.00</text>
<circle cx="375.5" cy="41.1" r="4.1" fill="none" stroke="#0000ff" stroke-width="1"/>
<path d="M349.2 69.2 H401.6" stroke="#000" stroke-width="2.2"/>
<path d="M350.6 104.3 H392" stroke="#ff0000" stroke-width="2.8" stroke-dasharray="9.2 17" stroke-linecap="round"/>
<g font-family="'Liberation Sans', sans-serif" font-size="23.2" stroke="#000" stroke-width="0.2">
<text transform="translate(407.1 49.45) scale(.982 1)">data</text>
<text transform="translate(407.1 77.25) scale(.991 1)">extended s</text>
<text transform="translate(520.0 85.9) scale(1.07 1)" font-size="14.2" stroke="none">±</text>
<text transform="translate(407.1 112.85) scale(1 1)">d-wave</text>
</g>
</g>
</g>
</svg>
</body>
</html>
